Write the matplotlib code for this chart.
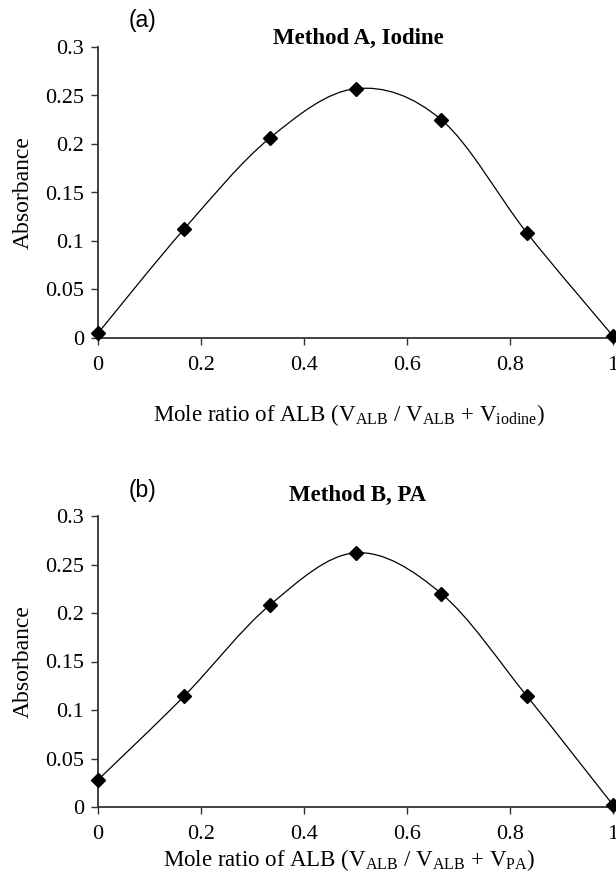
import matplotlib
matplotlib.use("Agg")
import matplotlib.pyplot as plt
import numpy as np
from matplotlib.path import Path
from matplotlib.patches import PathPatch

plt.rcParams['font.family'] = ['Liberation Serif', 'DejaVu Serif']
plt.rcParams['mathtext.fontset'] = 'custom'
plt.rcParams['mathtext.rm'] = 'Liberation Serif'
plt.rcParams['mathtext.it'] = 'Liberation Serif:italic'
plt.rcParams['mathtext.bf'] = 'Liberation Serif:bold'

mole_ratio = [0, 1/6, 1/3, 0.5, 2/3, 5/6, 1]
absorb_a = [0.005, 0.112, 0.206, 0.257, 0.225, 0.108, 0.002]
absorb_b = [0.028, 0.114, 0.208, 0.262, 0.220, 0.114, 0.002]
xticks = [0, 0.2, 0.4, 0.6, 0.8, 1]
xtick_labels = ['0', '0.2', '0.4', '0.6', '0.8', '1']
yticks = [0, 0.05, 0.1, 0.15, 0.2, 0.25, 0.3]
ytick_labels = ['0', '0.05', '0.1', '0.15', '0.2', '0.25', '0.3']
titles = ['Method A, Iodine', 'Method B, PA']
tags = ['(a)', '(b)']
xlabels = [r'Mole ratio of ALB (V$_{\mathrm{ALB}}$ / V$_{\mathrm{ALB}}$ + V$_{\mathrm{iodine}}$)',
           r'Mole ratio of ALB (V$_{\mathrm{ALB}}$ / V$_{\mathrm{ALB}}$ + V$_{\mathrm{PA}}$)']


def smooth_path(x, y, t=1/6):
    x = np.asarray(x, float); y = np.asarray(y, float)
    pts = np.column_stack([x, y])
    n = len(pts)
    verts = [pts[0]]
    codes = [Path.MOVETO]
    for i in range(n - 1):
        p0 = pts[i - 1] if i > 0 else pts[i]
        p1 = pts[i]
        p2 = pts[i + 1]
        p3 = pts[i + 2] if i + 2 < n else pts[i + 1]
        c1 = p1 + (p2 - p0) * t
        c2 = p2 - (p3 - p1) * t
        verts += [c1, c2, p2]
        codes += [Path.CURVE4] * 3
    return Path(verts, codes)


fig = plt.figure(figsize=(6.16, 8.88), dpi=100)
W, H = 616, 888
panels = [
    dict(data=absorb_a, top=47, bottom=338, xlab_y=415, tag_y=20, title_y=38),
    dict(data=absorb_b, top=516, bottom=807, xlab_y=860, tag_y=490, title_y=495),
]
left, right = 98, 613
for k, p in enumerate(panels):
    ax = fig.add_axes([left / W, 1 - p['bottom'] / H, (right - left) / W, (p['bottom'] - p['top']) / H])
    ax.add_patch(PathPatch(smooth_path(mole_ratio, p['data']), facecolor='none',
                           edgecolor='black', lw=0.9, zorder=2, clip_on=False))
    ax.plot(mole_ratio, p['data'], linestyle='none', marker='D', ms=7,
            color='black', zorder=3, clip_on=False)
    ax.set_xlim(0, 1)
    ax.set_ylim(0, 0.3)
    ax.set_xticks(xticks)
    ax.set_xticklabels(xtick_labels)
    ax.set_yticks(yticks)
    ax.set_yticklabels(ytick_labels)
    for s in ['top', 'right']:
        ax.spines[s].set_visible(False)
    for s in ['left', 'bottom']:
        ax.spines[s].set_color('#333333')
        ax.spines[s].set_linewidth(1.3)
    ax.tick_params(direction='out', length=5, width=1.0, color='#333333',
                   labelsize=16, pad=5)
    ax.tick_params(axis='x', pad=8)
    ax.set_ylabel('Absorbance', fontsize=17, labelpad=8)
    fig.text(349 / W, 1 - p['xlab_y'] / H, xlabels[k], fontsize=16.5,
             ha='center', va='center')
    fig.text(358 / W, 1 - p['title_y'] / H, titles[k], fontsize=16.5,
             fontweight='bold', ha='center', va='center')
    fig.text(143 / W, 1 - p['tag_y'] / H, tags[k], fontsize=16.5,
             family=['Liberation Sans', 'DejaVu Sans'], ha='center', va='center')

fig.savefig('out.png', dpi=100)
